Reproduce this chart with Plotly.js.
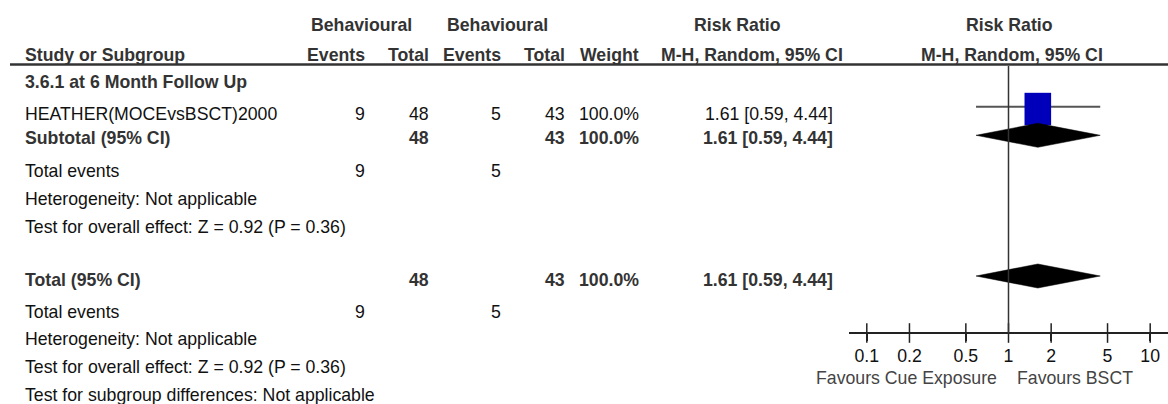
<!DOCTYPE html>
<html>
<head>
<meta charset="utf-8">
<script src="https://cdn.plot.ly/plotly-3.0.1.min.js"></script>
<style>html,body{margin:0;padding:0;background:#fff;}#chart{width:1168px;height:404px;}</style>
</head>
<body>
<div id="chart"></div>
<script>
// ---------------- DATA ----------------
const groupHeaders = ["Behavioural", "Behavioural", "Risk Ratio", "Risk Ratio"];
const columnHeaders = ["Study or Subgroup", "Events", "Total", "Events", "Total", "Weight", "M-H, Random, 95% CI", "M-H, Random, 95% CI"];
const subgroupLabel = "3.6.1 at 6 Month Follow Up";
const studyNames = ["HEATHER(MOCEvsBSCT)2000"];
const expEvents = [9];
const expTotals = [48];
const ctlEvents = [5];
const ctlTotals = [43];
const studyWeights = [100.0];
const studyRR = [1.61];
const studyLow = [0.59];
const studyHigh = [4.44];
const summaryLabels = ["Subtotal (95% CI)", "Total (95% CI)"];
const summaryExpTotals = [48, 48];
const summaryCtlTotals = [43, 43];
const summaryWeights = [100.0, 100.0];
const summaryRR = [1.61, 1.61];
const summaryLow = [0.59, 0.59];
const summaryHigh = [4.44, 4.44];
const summaryExpEvents = [9, 9];
const summaryCtlEvents = [5, 5];
const heterogeneityTexts = ["Heterogeneity: Not applicable", "Heterogeneity: Not applicable"];
const effectTexts = ["Test for overall effect: Z = 0.92 (P = 0.36)", "Test for overall effect: Z = 0.92 (P = 0.36)"];
const subgroupDiffText = "Test for subgroup differences: Not applicable";
const tickVals = [0.1, 0.2, 0.5, 1, 2, 5, 10];
const tickLabels = ["0.1", "0.2", "0.5", "1", "2", "5", "10"];
const favoursLabels = ["Favours Cue Exposure", "Favours BSCT"];
const nullValue = 1;

// ---------------- LAYOUT / STYLE ----------------
const W = 1168, H = 404;
const FONT = "Liberation Sans, Arial, Helvetica, sans-serif";
const FS = 17.7;
const BOLD_C = "#333333", REG_C = "#111111", GREY_C = "#444444";
const col = {study: 25, ev1: 364.5, tot1: 428.5, ev2: 501, tot2: 565, weight: 638.5, ci: 833,
             grp1: 361, grp2: 497.5, rrL: 737, mhL: 752, rrR: 1009, mhR: 1012};
const row = {grp: 24.5, head: 54.5, line: 64.5, subgroup: 82, study: 114, subtotal: 138,
             ev1: 171, het1: 198.5, eff1: 227, total: 279.5, ev2: 311.5, het2: 339, eff2: 367,
             sgdiff: 395, axis: 333, favours: 378};
const markRow = {ci: 106.7, sq: 109, subtotal: 135.3, total: 276};
const sqHalfW = 13.3, sqHalfH = 16.2, diaHalfH = 12;

const px = v => v / W;
const anns = [];
function txt(text, x, y, anchor, bold, color) {
  anns.push({
    text: bold ? "<b>" + text + "</b>" : text,
    x: px(x), xref: "paper", y: y, yref: "y",
    xanchor: anchor, yanchor: "middle", showarrow: false,
    borderpad: 0, borderwidth: 0,
    font: {family: FONT, size: FS, color: color || (bold ? BOLD_C : REG_C)}
  });
}
const fmtCI = (r, l, h) => r.toFixed(2) + " [" + l.toFixed(2) + ", " + h.toFixed(2) + "]";
const fmtW = w => w.toFixed(1) + "%";

// header
txt(groupHeaders[0], col.grp1, row.grp, "center", true);
txt(groupHeaders[1], col.grp2, row.grp, "center", true);
txt(groupHeaders[2], col.rrL, row.grp, "center", true);
txt(groupHeaders[3], col.rrR, row.grp, "center", true);
txt(columnHeaders[0], col.study, row.head, "left", true);
txt(columnHeaders[1], col.ev1, row.head, "right", true);
txt(columnHeaders[2], col.tot1, row.head, "right", true);
txt(columnHeaders[3], col.ev2, row.head, "right", true);
txt(columnHeaders[4], col.tot2, row.head, "right", true);
txt(columnHeaders[5], col.weight, row.head, "right", true);
txt(columnHeaders[6], col.mhL, row.head, "center", true);
txt(columnHeaders[7], col.mhR, row.head, "center", true);

// subgroup
txt(subgroupLabel, col.study, row.subgroup, "left", true);
studyNames.forEach((n, i) => {
  txt(n, col.study, row.study, "left", false);
  txt(String(expEvents[i]), col.ev1, row.study, "right", false);
  txt(String(expTotals[i]), col.tot1, row.study, "right", false);
  txt(String(ctlEvents[i]), col.ev2, row.study, "right", false);
  txt(String(ctlTotals[i]), col.tot2, row.study, "right", false);
  txt(fmtW(studyWeights[i]), col.weight, row.study, "right", false);
  txt(fmtCI(studyRR[i], studyLow[i], studyHigh[i]), col.ci, row.study, "right", false);
});
const sumRows = [row.subtotal, row.total];
const evRows = [row.ev1, row.ev2], hetRows = [row.het1, row.het2], effRows = [row.eff1, row.eff2];
summaryLabels.forEach((lab, i) => {
  const y = sumRows[i];
  txt(lab, col.study, y, "left", true);
  txt(String(summaryExpTotals[i]), col.tot1, y, "right", true);
  txt(String(summaryCtlTotals[i]), col.tot2, y, "right", true);
  txt(fmtW(summaryWeights[i]), col.weight, y, "right", true);
  txt(fmtCI(summaryRR[i], summaryLow[i], summaryHigh[i]), col.ci, y, "right", true);
  txt("Total events", col.study, evRows[i], "left", false);
  txt(String(summaryExpEvents[i]), col.ev1, evRows[i], "right", false);
  txt(String(summaryCtlEvents[i]), col.ev2, evRows[i], "right", false);
  txt(heterogeneityTexts[i], col.study, hetRows[i], "left", false);
  txt(effectTexts[i], col.study, effRows[i], "left", false);
});
txt(subgroupDiffText, col.study, row.sgdiff, "left", false);
txt(favoursLabels[0], 996.5, row.favours, "right", false, GREY_C);
txt(favoursLabels[1], 1016.5, row.favours, "left", false, GREY_C);

// ---------------- SCALE ----------------
const dec = 141.7, origin = 1008.5;
const xr = [(849 - origin) / dec, (W - origin) / dec];
const f = Math.pow(10, sqHalfW / dec);   // half-width of study box in log space

// ---------------- TRACES ----------------
const traces = [];
// CI lines
studyRR.forEach((r, i) => {
  traces.push({x: [studyLow[i], studyHigh[i]], y: [markRow.ci, markRow.ci], type: "scatter", mode: "lines",
    line: {color: "#555555", width: 2}, hoverinfo: "skip", showlegend: false});
});
// study boxes
studyRR.forEach((r, i) => {
  const y0 = markRow.sq - sqHalfH, y1 = markRow.sq + sqHalfH;
  traces.push({x: [r / f, r * f, r * f, r / f, r / f], y: [y0, y0, y1, y1, y0], type: "scatter", mode: "lines",
    fill: "toself", fillcolor: "#0000BB", line: {color: "#0000BB", width: 0}, hoverinfo: "skip", showlegend: false});
});
// diamonds
const dRows = [markRow.subtotal, markRow.total];
summaryRR.forEach((r, i) => {
  const y = dRows[i];
  traces.push({x: [summaryLow[i], r, summaryHigh[i], r, summaryLow[i]], y: [y, y - diaHalfH, y, y + diaHalfH, y],
    type: "scatter", mode: "lines", fill: "toself", fillcolor: "#000000",
    line: {color: "#000000", width: 0.5}, hoverinfo: "skip", showlegend: false});
});
// tick marks crossing the axis line
traces.push({x: tickVals, y: tickVals.map(() => row.axis), type: "scatter", mode: "markers",
  marker: {symbol: "line-ns", size: 14, line: {color: "#222222", width: 1.5}}, hoverinfo: "skip", showlegend: false});

// shapes
const shapes = [
  {type: "line", xref: "paper", yref: "y", x0: px(10), x1: 1, y0: row.line, y1: row.line, line: {color: "#333333", width: 2.5}},
  {type: "line", xref: "x", yref: "y", x0: nullValue, x1: nullValue, y0: row.line + 1.5, y1: row.axis, line: {color: "#333333", width: 1.5}}
];

const layout = {
  width: W, height: H, margin: {l: 0, r: 0, t: 0, b: 0}, paper_bgcolor: "#fff", plot_bgcolor: "rgba(0,0,0,0)",
  showlegend: false,
  xaxis: {type: "log", domain: [849 / W, 1], range: xr, anchor: "free", position: (H - row.axis) / H,
    showgrid: false, zeroline: false, showline: true, linecolor: "#222222", linewidth: 2,
    ticks: "outside", ticklen: 7, tickwidth: 1.5, tickcolor: "#222222",
    tickvals: tickVals, ticktext: tickLabels, tickfont: {family: FONT, size: FS, color: REG_C}, fixedrange: true},
  yaxis: {range: [H, 0], domain: [0, 1], visible: false, fixedrange: true},
  annotations: anns, shapes: shapes
};
Plotly.newPlot("chart", traces, layout, {staticPlot: true, displayModeBar: false});
</script>
</body>
</html>
